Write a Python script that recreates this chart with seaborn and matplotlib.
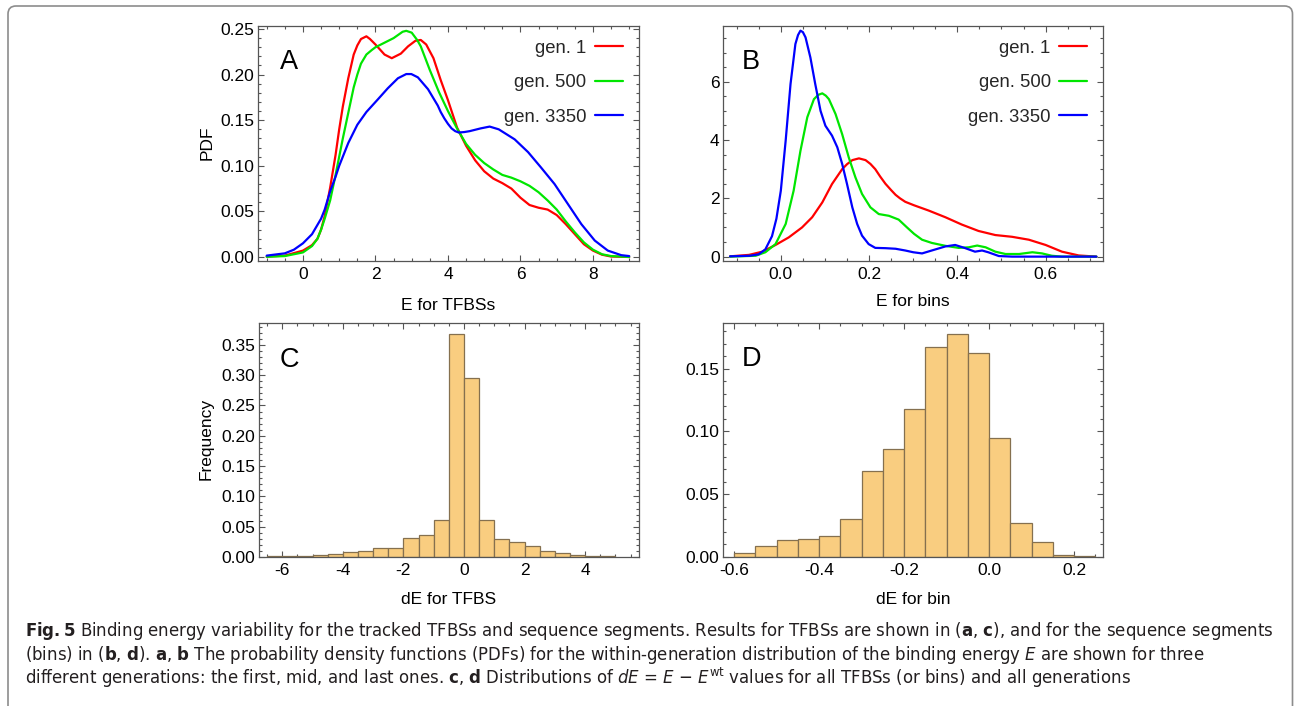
import numpy as np
import pandas as pd
import matplotlib
matplotlib.use("Agg")
import matplotlib.pyplot as plt
import seaborn as sns
from matplotlib import font_manager
from matplotlib.patches import FancyBboxPatch
from matplotlib.transforms import IdentityTransform
from matplotlib.ticker import MultipleLocator, FormatStrFormatter

# ---------------- data ----------------
generations = ["gen. 1", "gen. 500", "gen. 3350"]
gen_colors = ["#ff0000", "#00e600", "#0000ff"]

# Panel A: PDF of E for TFBSs
A_gen1_x = [-1.0, -0.5, 0.0, 0.25, 0.4, 0.5, 0.6, 0.75, 0.9, 1.0, 1.1, 1.25, 1.4, 1.5, 1.6, 1.75,
            1.85, 2.0, 2.25, 2.45, 2.7, 2.9, 3.1, 3.25, 3.4, 3.6, 3.8, 4.0, 4.25, 4.5, 4.75, 5.0,
            5.25, 5.5, 5.75, 6.0, 6.25, 6.5, 6.75, 7.0, 7.25, 7.5, 7.75, 8.0, 8.25, 8.5, 9.0]
A_gen1_y = [0.0004, 0.0015, 0.007, 0.013, 0.020, 0.030, 0.045, 0.076, 0.112, 0.140, 0.165, 0.196,
            0.222, 0.232, 0.239, 0.242, 0.239, 0.233, 0.222, 0.218, 0.223, 0.231, 0.237, 0.238,
            0.233, 0.218, 0.194, 0.172, 0.142, 0.122, 0.106, 0.094, 0.086, 0.081, 0.075, 0.065,
            0.057, 0.054, 0.052, 0.046, 0.036, 0.025, 0.014, 0.007, 0.0025, 0.0005, 0.0]
A_gen500_x = [-1.0, -0.5, 0.0, 0.25, 0.4, 0.5, 0.6, 0.75, 0.9, 1.0, 1.1, 1.25, 1.4, 1.5, 1.6, 1.75,
              1.9, 2.0, 2.25, 2.5, 2.75, 2.85, 3.0, 3.15, 3.25, 3.5, 3.75, 4.0, 4.25, 4.5, 4.75,
              5.0, 5.25, 5.5, 5.75, 6.0, 6.25, 6.5, 6.75, 7.0, 7.25, 7.5, 7.75, 8.0, 8.25, 8.5,
              9.0]
A_gen500_y = [0.0002, 0.001, 0.005, 0.012, 0.020, 0.030, 0.042, 0.062, 0.090, 0.110, 0.130, 0.158,
              0.186, 0.200, 0.212, 0.222, 0.227, 0.230, 0.235, 0.240, 0.247, 0.248, 0.246, 0.238,
              0.231, 0.205, 0.181, 0.160, 0.141, 0.124, 0.112, 0.103, 0.096, 0.090, 0.087, 0.083,
              0.078, 0.071, 0.062, 0.052, 0.039, 0.027, 0.016, 0.008, 0.003, 0.001, 0.0]
A_gen3350_x = [-1.0, -0.5, -0.25, 0.0, 0.25, 0.5, 0.6, 0.75, 0.9, 1.0, 1.25, 1.5, 1.75, 2.07, 2.34,
               2.62, 2.85, 2.99, 3.17, 3.45, 3.72, 3.8, 3.9, 4.0, 4.1, 4.2, 4.3, 4.45, 4.6, 4.9,
               5.15, 5.4, 5.84, 6.21, 6.57, 6.94, 7.31, 7.68, 8.05, 8.41, 8.78, 9.0]
A_gen3350_y = [0.0015, 0.004, 0.008, 0.015, 0.025, 0.042, 0.052, 0.072, 0.088, 0.100, 0.125, 0.145,
               0.159, 0.173, 0.185, 0.196, 0.2006, 0.2006, 0.197, 0.184, 0.166, 0.159, 0.152,
               0.146, 0.141, 0.138, 0.1365, 0.137, 0.138, 0.141, 0.143, 0.140, 0.129, 0.115,
               0.098, 0.080, 0.058, 0.036, 0.018, 0.007, 0.002, 0.001]

# Panel B: PDF of E for bins
B_gen1_x = [-0.115, -0.072, -0.042, -0.012, 0.018, 0.048, 0.071, 0.094, 0.116, 0.139, 0.15, 0.162,
            0.177, 0.192, 0.203, 0.214, 0.225, 0.237, 0.25, 0.26, 0.27, 0.282, 0.302, 0.335,
            0.373, 0.41, 0.448, 0.486, 0.524, 0.562, 0.6, 0.637, 0.675, 0.715]
B_gen1_y = [0.01, 0.06, 0.17, 0.40, 0.66, 1.0, 1.35, 1.86, 2.49, 3.0, 3.17, 3.31, 3.37, 3.31, 3.18,
            3.0, 2.75, 2.5, 2.28, 2.12, 2.0, 1.88, 1.76, 1.58, 1.35, 1.10, 0.88, 0.74, 0.68, 0.58,
            0.40, 0.17, 0.04, 0.0]
B_gen500_x = [-0.115, -0.057, -0.035, -0.012, 0.011, 0.029, 0.0445, 0.06, 0.075, 0.085, 0.094, 0.102,
              0.109, 0.124, 0.139, 0.154, 0.169, 0.184, 0.203, 0.222, 0.245, 0.267, 0.286, 0.302,
              0.32, 0.342, 0.373, 0.403, 0.426, 0.445, 0.464, 0.486, 0.509, 0.54, 0.57, 0.592,
              0.614, 0.637, 0.715]
B_gen500_y = [0.0, 0.03, 0.15, 0.43, 1.12, 2.26, 3.63, 4.78, 5.4, 5.55, 5.6, 5.52, 5.4, 4.89, 4.2,
              3.4, 2.72, 2.15, 1.69, 1.46, 1.40, 1.27, 1.0, 0.78, 0.58, 0.47, 0.37, 0.30, 0.32,
              0.38, 0.32, 0.17, 0.09, 0.09, 0.15, 0.11, 0.03, 0.0, 0.0]
B_gen3350_x = [-0.115, -0.07, -0.05, -0.035, -0.02, -0.01, 0.0, 0.011, 0.022, 0.033, 0.039, 0.0445,
               0.05, 0.056, 0.067, 0.078, 0.09, 0.101, 0.116, 0.128, 0.139, 0.15, 0.162, 0.173,
               0.184, 0.199, 0.214, 0.237, 0.26, 0.282, 0.3, 0.32, 0.342, 0.373, 0.395, 0.418,
               0.44, 0.456, 0.47, 0.494, 0.524, 0.6, 0.715]
B_gen3350_y = [0.01, 0.03, 0.08, 0.25, 0.7, 1.3, 2.26, 3.98, 5.92, 7.29, 7.6, 7.75, 7.7, 7.52, 6.83,
               5.92, 5.0, 4.49, 4.15, 3.75, 3.18, 2.49, 1.69, 1.12, 0.72, 0.43, 0.30, 0.29, 0.27,
               0.21, 0.15, 0.11, 0.21, 0.35, 0.40, 0.29, 0.17, 0.21, 0.15, 0.02, 0.0, 0.0, 0.0]

# Panel C: histogram of dE for TFBS (bin width 0.5)
C_bin_centers = [-6.25, -5.75, -5.25, -4.75, -4.25, -3.75, -3.25, -2.75, -2.25, -1.75, -1.25,
                 -0.75, -0.25, 0.25, 0.75, 1.25, 1.75, 2.25, 2.75, 3.25, 3.75, 4.25, 4.75]
C_freq = [0.001, 0.0015, 0.002, 0.003, 0.005, 0.008, 0.010, 0.015, 0.015, 0.031, 0.036, 0.061,
          0.3676, 0.295, 0.0615, 0.030, 0.025, 0.018, 0.010, 0.0066, 0.003, 0.0015, 0.001]

# Panel D: histogram of dE for bin (bin width 0.05)
D_bin_centers = [-0.575, -0.525, -0.475, -0.425, -0.375, -0.325, -0.275, -0.225, -0.175, -0.125,
                 -0.075, -0.025, 0.025, 0.075, 0.125, 0.175, 0.225]
D_freq = [0.0029, 0.0088, 0.0135, 0.0143, 0.017, 0.0305, 0.0688, 0.0863, 0.1176, 0.1673, 0.1776,
          0.1622, 0.0948, 0.0271, 0.0119, 0.0016, 0.0008]

# tick labels
A_xticks = [0, 2, 4, 6, 8]
A_yticks = [0.00, 0.05, 0.10, 0.15, 0.20, 0.25]
B_xticks = [0.0, 0.2, 0.4, 0.6]
B_yticks = [0, 2, 4, 6]
C_xticks = [-6, -4, -2, 0, 2, 4]
C_yticks = [0.00, 0.05, 0.10, 0.15, 0.20, 0.25, 0.30, 0.35]
D_xticks = [-0.6, -0.4, -0.2, 0.0, 0.2]
D_yticks = [0.00, 0.05, 0.10, 0.15]

caption_lines = [
    r"$\mathbf{Fig.5}$ Binding energy variability for the tracked TFBSs and sequence segments. "
    r"Results for TFBSs are shown in ($\mathbf{a}$, $\mathbf{c}$), and for the sequence segments",
    r"(bins) in ($\mathbf{b}$, $\mathbf{d}$). $\mathbf{a}$, $\mathbf{b}$ The probability density "
    r"functions (PDFs) for the within-generation distribution of the binding energy $E$ are shown for three",
    r"different generations: the first, mid, and last ones. $\mathbf{c}$, $\mathbf{d}$ Distributions "
    r"of $dE$ = $E$ − $E^{\mathrm{wt}}$ values for all TFBSs (or bins) and all generations",
]

# ---------------- style ----------------
sns.set_theme(style="white")
plt.rcParams["font.family"] = ["Liberation Sans", "DejaVu Sans"]
plt.rcParams["axes.unicode_minus"] = True

# caption font: prefer a condensed face if one is installed
cap_family, cap_stretch = "Roboto", "normal"
try:
    p = font_manager.findfont(font_manager.FontProperties(family="DejaVu Sans", stretch="condensed"),
                              fallback_to_default=False)
    if "ondensed" in p:
        cap_family, cap_stretch = "DejaVu Sans", "condensed"
except Exception:
    pass
suffix = ":stretch=condensed" if cap_stretch == "condensed" else ""
plt.rcParams["mathtext.fontset"] = "custom"
plt.rcParams["mathtext.rm"] = cap_family + suffix
plt.rcParams["mathtext.it"] = cap_family + suffix + ":style=italic"
plt.rcParams["mathtext.bf"] = cap_family + suffix + ":weight=bold"

W, H = 1294, 706
fig = plt.figure(figsize=(W / 100, H / 100), dpi=100)
fig.patch.set_facecolor("white")


def ax_px(left, top, right, bottom):
    return fig.add_axes([left / W, 1 - bottom / H, (right - left) / W, (bottom - top) / H])


axA = ax_px(258, 26, 639, 261)
axB = ax_px(723, 26, 1103, 261)
axC = ax_px(259, 323, 639, 557)
axD = ax_px(723, 323, 1103, 557)

frame_col = "#555555"
tick_fs = 12.5


def style_axes(ax, xticks, yticks, xminor, yminor, xfmt, yfmt):
    for s in ax.spines.values():
        s.set_visible(True)
        s.set_color(frame_col)
        s.set_linewidth(0.9)
    ax.set_xticks(xticks)
    ax.set_yticks(yticks)
    ax.xaxis.set_minor_locator(MultipleLocator(xminor))
    ax.yaxis.set_minor_locator(MultipleLocator(yminor))
    ax.xaxis.set_major_formatter(FormatStrFormatter(xfmt))
    ax.yaxis.set_major_formatter(FormatStrFormatter(yfmt))
    ax.tick_params(which="both", direction="in", top=True, right=True, bottom=True, left=True,
                   color=frame_col, width=0.8)
    ax.tick_params(which="major", length=4.0, labelsize=tick_fs, labelcolor="black")
    ax.tick_params(which="minor", length=2.0)
    ax.tick_params(axis="x", which="major", pad=4)
    ax.tick_params(axis="y", which="major", pad=2.5)
    ax.grid(False)


def long_df(xs, ys):
    frames = []
    for g, x, y in zip(generations, xs, ys):
        frames.append(pd.DataFrame({"x": x, "y": y, "gen": g}))
    return pd.concat(frames, ignore_index=True)


dfA = long_df([A_gen1_x, A_gen500_x, A_gen3350_x], [A_gen1_y, A_gen500_y, A_gen3350_y])
dfB = long_df([B_gen1_x, B_gen500_x, B_gen3350_x], [B_gen1_y, B_gen500_y, B_gen3350_y])

for ax, df in [(axA, dfA), (axB, dfB)]:
    sns.lineplot(data=df, x="x", y="y", hue="gen", hue_order=generations,
                 palette=gen_colors, linewidth=1.6, legend=False, ax=ax, estimator=None)
    for ln in ax.get_lines():
        ln.set_solid_joinstyle("round")
    lines = ax.get_lines()[:3]
    ax.legend(lines, generations, loc="upper right", bbox_to_anchor=(0.957, 0.941),
              markerfirst=False, frameon=False, fontsize=13.3, handlelength=1.5,
              handletextpad=0.45, labelspacing=0.95, borderpad=0, borderaxespad=0)

hist_face = "#f9cd80"
hist_edge = "#85704f"
sns.histplot(x=C_bin_centers, weights=C_freq, binwidth=0.5, binrange=(-6.5, 5.0),
             color=hist_face, edgecolor=hist_edge, linewidth=0.9, alpha=1, ax=axC)
sns.histplot(x=D_bin_centers, weights=D_freq, binwidth=0.05, binrange=(-0.6, 0.25),
             color=hist_face, edgecolor=hist_edge, linewidth=0.9, alpha=1, ax=axD)

axA.set_xlim(-1.24, 9.27)
axA.set_ylim(-0.0044, 0.2533)
axB.set_xlim(-0.131, 0.73)
axB.set_ylim(-0.15, 7.91)
axC.set_xlim(-6.77, 5.78)
axC.set_ylim(0, 0.386)
axD.set_xlim(-0.626, 0.268)
axD.set_ylim(0, 0.1864)

style_axes(axA, A_xticks, A_yticks, 0.5, 0.01, "%d", "%.2f")
style_axes(axB, B_xticks, B_yticks, 0.05, 0.5, "%.1f", "%d")
style_axes(axC, C_xticks, C_yticks, 0.5, 0.01, "%d", "%.2f")
style_axes(axD, D_xticks, D_yticks, 0.05, 0.01, "%.1f", "%.2f")

lab_fs = 12.5
axA.set_xlabel("E for TFBSs", fontsize=lab_fs, color="black")
axB.set_xlabel("E for bins", fontsize=lab_fs, color="black")
axC.set_xlabel("dE for TFBS", fontsize=lab_fs, color="black")
axD.set_xlabel("dE for bin", fontsize=lab_fs, color="black")
axA.set_ylabel("PDF", fontsize=lab_fs, color="black")
axC.set_ylabel("Frequency", fontsize=lab_fs, color="black")
axB.set_ylabel("")
axD.set_ylabel("")
axA.xaxis.set_label_coords(0.5, -0.156)
axB.xaxis.set_label_coords(0.5, -0.139)
axC.xaxis.set_label_coords(0.5, -0.149)
axD.xaxis.set_label_coords(0.5, -0.149)
axA.yaxis.set_label_coords(-0.113, 0.505)
axC.yaxis.set_label_coords(-0.119, 0.504)

for ax, letter, x, y in [(axA, "A", 0.058, 0.845), (axB, "B", 0.05, 0.845),
                         (axC, "C", 0.053, 0.84), (axD, "D", 0.05, 0.845)]:
    ax.text(x, y, letter, transform=ax.transAxes, fontsize=19.5, ha="left", va="center",
            color="black")

# caption
cap_color = "#231f20"
baselines = [636, 660, 684]
texts = []
for line, b in zip(caption_lines, baselines):
    t = fig.text(25 / W, 1 - b / H, line, fontsize=14, family=cap_family, stretch=cap_stretch,
                 color=cap_color, ha="left", va="baseline")
    texts.append(t)
renderer = fig.canvas.get_renderer()
w0 = texts[0].get_window_extent(renderer).width
fs = 14 * 1253.0 / w0
for t in texts:
    t.set_fontsize(fs)

# figure frame with rounded top corners
frame = FancyBboxPatch((8, -30), 1284.5, 730, boxstyle="round,pad=0,rounding_size=8",
                       transform=IdentityTransform(), fill=False, edgecolor="#8c8c8c",
                       linewidth=1.2)
fig.add_artist(frame)

fig.savefig("out.png", dpi=100, facecolor="white")
